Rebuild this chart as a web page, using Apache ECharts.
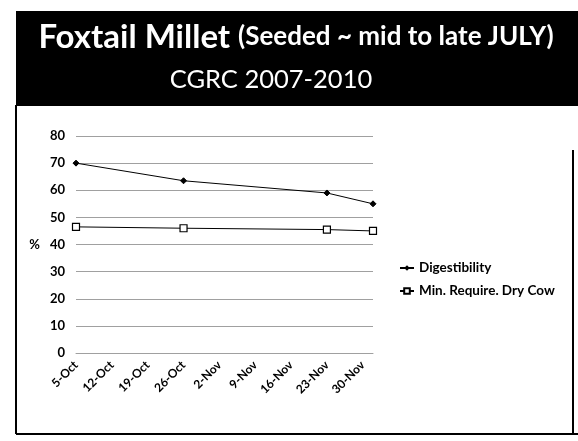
<!DOCTYPE html>
<html>
<head>
<meta charset="utf-8">
<script src="https://cdn.jsdelivr.net/npm/echarts@6/dist/echarts.min.js"></script>
<style>html,body{margin:0;padding:0;background:#fff}#c{width:578px;height:441px}</style>
</head>
<body>
<div id="c"></div>
<script>
// ---- data ----
var sampleDates = ['5-Oct', '26-Oct', '23-Nov', '2-Dec'];
var dayOffsets = [0, 21, 49, 58];           // days after 5-Oct
var digestibility = [70, 63.5, 59, 55];
var minRequireDryCow = [46.5, 46, 45.5, 45];
var tickLabels = ['5-Oct','12-Oct','19-Oct','26-Oct','2-Nov','9-Nov','16-Nov','23-Nov','30-Nov'];
var yTicks = [0, 10, 20, 30, 40, 50, 60, 70, 80];
var seriesNames = ['Digestibility', 'Min. Require. Dry Cow'];
var titleMain = 'Foxtail Millet';
var titleParen = '(Seeded ~ mid to late JULY)';
var titleSub = 'CGRC 2007-2010';

function pairs(xs, ys) { return xs.map(function (x, i) { return [x, ys[i]]; }); }

var chart = echarts.init(document.getElementById('c'), null, {renderer: 'canvas'});
var font = 'Lato, "Open Sans", sans-serif';
var gridColor = '#a0a0a0';

chart.setOption({
  backgroundColor: '#fff',
  animation: false,
  textStyle: {fontFamily: font},
  graphic: [
    {type: 'rect', shape: {x: 16, y: 11, width: 562, height: 95}, style: {fill: '#000'}, silent: true},
    {type: 'text', x: 296, y: 37, style: {
      text: '{a|' + titleMain + '}{s| }{b|' + titleParen + '}',
      align: 'center', verticalAlign: 'middle',
      rich: {
        a: {fontFamily: font, fontSize: 33, fontWeight: 'bold', fill: '#fff'},
        s: {width: 8},
        b: {fontFamily: font, fontSize: 26, fontWeight: 'bold', fill: '#fff'}
      }
    }},
    {type: 'text', x: 271, y: 80, style: {
      text: titleSub, align: 'center', verticalAlign: 'middle',
      fontFamily: font, fontSize: 25.5, fill: '#fff'
    }},
    {type: 'line', shape: {x1: 16, y1: 105, x2: 16, y2: 434}, style: {stroke: '#000', lineWidth: 2}},
    {type: 'line', shape: {x1: 16, y1: 434, x2: 578, y2: 434}, style: {stroke: '#000', lineWidth: 2}},
    {type: 'line', shape: {x1: 573, y1: 150, x2: 573, y2: 434}, style: {stroke: '#000', lineWidth: 2}}
  ],
  legend: {
    orient: 'vertical', left: 394, top: 256, itemGap: 9,
    itemWidth: 14, itemHeight: 7,
    textStyle: {fontFamily: font, fontSize: 13.5, color: '#000', fontWeight: 'bold'},
    data: seriesNames
  },
  grid: {left: 76, right: 205, top: 136, bottom: 88, containLabel: false},
  xAxis: {
    type: 'value', min: 0, max: 58, interval: 7,
    axisLine: {show: true, lineStyle: {color: gridColor}},
    axisTick: {show: false},
    splitLine: {show: false},
    axisLabel: {
      rotate: 45, margin: 10, fontSize: 12, color: '#000', fontWeight: 'bold', fontFamily: font,
      showMaxLabel: false,
      formatter: function (v) { return (v % 7 === 0) ? (tickLabels[v / 7] || '') : ''; }
    }
  },
  yAxis: {
    type: 'value', min: 0, max: 80, interval: 10,
    name: '%', nameLocation: 'middle', nameRotate: 0, nameGap: 36,
    nameTextStyle: {fontSize: 13, color: '#000', fontWeight: 'bold', fontFamily: font},
    axisLine: {show: false}, axisTick: {show: false},
    splitLine: {lineStyle: {color: gridColor, width: 1}},
    axisLabel: {fontSize: 13, color: '#000', fontWeight: 'bold', margin: 11, fontFamily: font,
      formatter: function (v) { return yTicks.indexOf(v) >= 0 ? String(v) : ''; }}
  },
  series: [
    {name: seriesNames[0], type: 'line', data: pairs(dayOffsets, digestibility),
      symbol: 'diamond', symbolSize: 6, lineStyle: {color: '#000', width: 1},
      itemStyle: {color: '#000', borderColor: '#000'}},
    {name: seriesNames[1], type: 'line', data: pairs(dayOffsets, minRequireDryCow),
      symbol: 'rect', symbolSize: 7, lineStyle: {color: '#000', width: 1},
      itemStyle: {color: '#fff', borderColor: '#000', borderWidth: 1.2}}
  ]
});
</script>
</body>
</html>
